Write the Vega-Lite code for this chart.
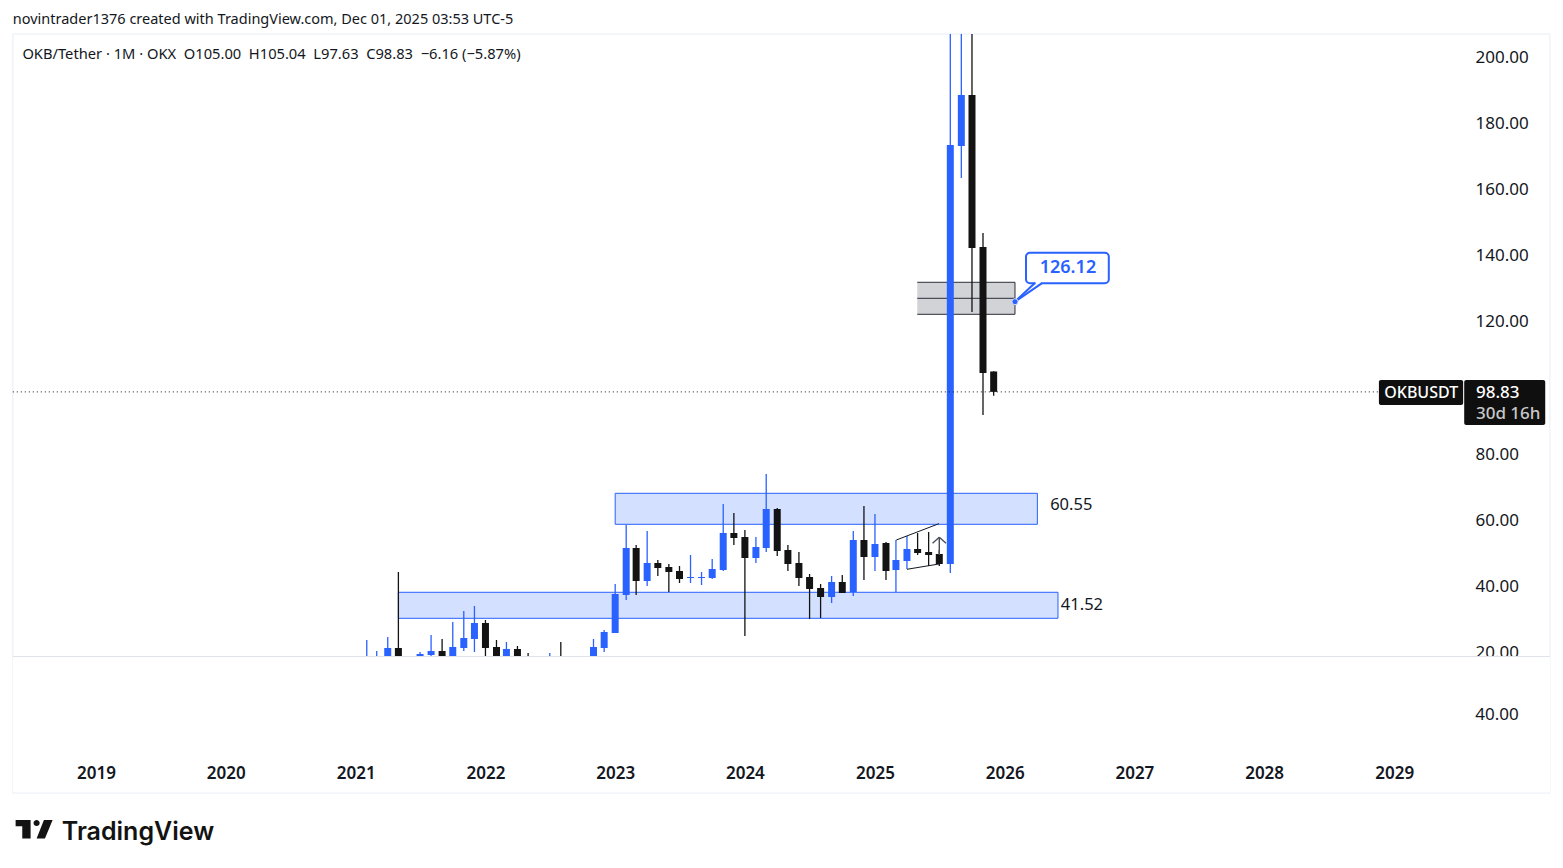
{"$schema":"https://vega.github.io/schema/vega-lite/v6.json","width":1563,"height":868,"padding":0,"autosize":"none","background":"#ffffff","config":{"view":{"stroke":null},"font":"Noto Sans"},
"datasets":{
"frame":[{"d":"2018-05-12","d2":"2030-03-15","p":207.1,"p2":-22.5}],
"pane":[{"d":"2018-05-12","d2":"2030-03-15","p":18.75,"p2":-22.3}],
"sep":[{"d":"2018-05-12","d2":"2030-03-15","p":18.75}],
"zones":[{"d":"2023-01-01","d2":"2026-04-03","p":68.14,"p2":58.76},{"d":"2021-05-01","d2":"2026-05-31","p":38.19,"p2":30.32}],
"grayBox":[{"d":"2025-04-30","d2":"2026-01-30","p":131.99,"p2":122.3}],
"grayLines":[{"d":"2025-04-30","d2":"2026-01-30","p":131.99,"p2":131.99},{"d":"2025-04-30","d2":"2026-01-30","p":127.14,"p2":127.14},{"d":"2025-04-30","d2":"2026-01-30","p":122.3,"p2":122.3},{"d":"2026-01-30","d2":"2026-01-30","p":131.99,"p2":122.3}],
"last":[{"d":"2018-05-12","d2":"2028-11-19","p":98.83}],
"candles":[
{"d":"2021-02-01","o":7.5,"h":23.76,"l":6.5,"c":13.5,"dir":"up"},
{"d":"2021-03-01","o":13.5,"h":20.43,"l":11,"c":16,"dir":"up"},
{"d":"2021-04-01","o":16,"h":24.66,"l":13,"c":21.33,"dir":"up"},
{"d":"2021-05-01","o":21.33,"h":44.33,"l":8,"c":12,"dir":"down"},
{"d":"2021-07-01","o":16,"h":20.12,"l":10,"c":19.52,"dir":"up"},
{"d":"2021-08-01","o":19.22,"h":25.27,"l":17,"c":20.43,"dir":"up"},
{"d":"2021-09-01","o":20.43,"h":24.06,"l":13,"c":15,"dir":"down"},
{"d":"2021-10-01","o":15,"h":29.2,"l":14,"c":21.64,"dir":"up"},
{"d":"2021-11-01","o":21.33,"h":32.53,"l":20.43,"c":24.36,"dir":"up"},
{"d":"2021-12-01","o":24.06,"h":34.04,"l":20.12,"c":28.9,"dir":"up"},
{"d":"2022-01-01","o":28.9,"h":29.81,"l":16,"c":21.33,"dir":"down"},
{"d":"2022-02-01","o":21.64,"h":23.76,"l":15,"c":17,"dir":"down"},
{"d":"2022-03-01","o":17,"h":23.15,"l":15,"c":21.03,"dir":"up"},
{"d":"2022-04-01","o":21.03,"h":21.94,"l":14,"c":16,"dir":"down"},
{"d":"2022-05-01","o":16,"h":19.82,"l":9,"c":11,"dir":"down"},
{"d":"2022-07-01","o":12,"h":19.82,"l":10,"c":15,"dir":"up"},
{"d":"2022-08-01","o":15,"h":23.15,"l":12,"c":13,"dir":"down"},
{"d":"2022-11-01","o":15,"h":24.06,"l":14,"c":21.64,"dir":"up"},
{"d":"2022-12-01","o":21.33,"h":26.78,"l":20.12,"c":26.18,"dir":"up"},
{"d":"2023-01-01","o":25.87,"h":40.7,"l":25.87,"c":37.67,"dir":"up"},
{"d":"2023-02-01","o":37.37,"h":58.55,"l":35.86,"c":51.59,"dir":"up"},
{"d":"2023-03-01","o":51.59,"h":52.5,"l":37.37,"c":41.61,"dir":"down"},
{"d":"2023-04-01","o":41.61,"h":56.74,"l":40.09,"c":47.05,"dir":"up"},
{"d":"2023-05-01","o":47.05,"h":47.96,"l":43.12,"c":45.54,"dir":"down"},
{"d":"2023-06-01","o":45.84,"h":46.75,"l":38.28,"c":44.33,"dir":"down"},
{"d":"2023-07-01","o":44.63,"h":46.15,"l":41.0,"c":42.21,"dir":"down"},
{"d":"2023-08-01","o":42.51,"h":49.47,"l":41.0,"c":42.82,"dir":"up"},
{"d":"2023-09-01","o":42.51,"h":44.33,"l":40.4,"c":42.82,"dir":"up"},
{"d":"2023-10-01","o":42.51,"h":48.26,"l":42.21,"c":45.24,"dir":"up"},
{"d":"2023-11-01","o":44.94,"h":64.9,"l":44.63,"c":56.13,"dir":"up"},
{"d":"2023-12-01","o":56.13,"h":62.18,"l":52.5,"c":54.62,"dir":"down"},
{"d":"2024-01-01","o":54.92,"h":57.04,"l":24.97,"c":48.57,"dir":"down"},
{"d":"2024-02-01","o":48.57,"h":54.92,"l":47.05,"c":51.89,"dir":"up"},
{"d":"2024-03-01","o":51.59,"h":73.98,"l":50.38,"c":63.39,"dir":"up"},
{"d":"2024-04-01","o":63.39,"h":63.69,"l":49.17,"c":50.68,"dir":"down"},
{"d":"2024-05-01","o":50.99,"h":52.5,"l":44.63,"c":46.75,"dir":"down"},
{"d":"2024-06-01","o":47.05,"h":50.38,"l":40.09,"c":42.51,"dir":"down"},
{"d":"2024-07-01","o":42.82,"h":43.72,"l":30.11,"c":39.19,"dir":"down"},
{"d":"2024-08-01","o":39.49,"h":40.7,"l":30.41,"c":36.77,"dir":"down"},
{"d":"2024-09-01","o":36.77,"h":43.12,"l":34.95,"c":41.3,"dir":"up"},
{"d":"2024-10-01","o":41.3,"h":43.42,"l":37.98,"c":37.98,"dir":"down"},
{"d":"2024-11-01","o":38.28,"h":56.74,"l":37.07,"c":54.01,"dir":"up"},
{"d":"2024-12-01","o":54.01,"h":64.3,"l":41.91,"c":48.87,"dir":"down"},
{"d":"2025-01-01","o":48.87,"h":61.88,"l":44.63,"c":52.8,"dir":"up"},
{"d":"2025-02-01","o":53.1,"h":53.41,"l":41.91,"c":44.63,"dir":"down"},
{"d":"2025-03-01","o":44.94,"h":54.01,"l":38.28,"c":47.96,"dir":"up"},
{"d":"2025-04-01","o":47.66,"h":55.22,"l":45.24,"c":51.29,"dir":"up"},
{"d":"2025-05-01","o":51.29,"h":56.13,"l":49.47,"c":50.08,"dir":"down"},
{"d":"2025-06-01","o":50.38,"h":56.43,"l":46.15,"c":49.47,"dir":"down"},
{"d":"2025-07-01","o":49.78,"h":50.99,"l":46.15,"c":46.75,"dir":"down"},
{"d":"2025-08-01","o":46.75,"h":207.1,"l":44.03,"c":173.53,"dir":"up"},
{"d":"2025-09-01","o":173.22,"h":207.1,"l":163.54,"c":188.66,"dir":"up"},
{"d":"2025-10-01","o":188.66,"h":207.1,"l":123.0,"c":142.36,"dir":"down"},
{"d":"2025-11-01","o":142.67,"h":146.9,"l":91.83,"c":104.54,"dir":"down"},
{"d":"2025-12-01","o":105.0,"h":105.04,"l":97.63,"c":98.83,"dir":"down"}],
"pattern":[{"d":"2025-03-02","d2":"2025-06-30","p":54.01,"p2":58.95},{"d":"2025-04-01","d2":"2025-06-30","p":45.15,"p2":46.75}],
"arrow":[{"d":"2025-07-01","d2":"2025-07-01","p":54.83,"p2":49.47},{"d":"2025-06-12","d2":"2025-07-01","p":53.01,"p2":54.83},{"d":"2025-07-20","d2":"2025-07-01","p":53.01,"p2":54.83}],
"bubble":[{"d":"2026-03-02","d2":"2026-10-21","p":140.94,"p2":131.68}],
"pointer":[{"d":"2026-01-30","d2":"2026-03-27","p":126.12,"p2":131.77},{"d":"2026-01-30","d2":"2026-04-15","p":126.12,"p2":131.68}],
"gap":[{"d":"2026-03-29","d2":"2026-04-13","p":131.68,"p2":131.68}],
"dot":[{"d":"2026-01-30","p":126.12}],
"tickerBox":[{"d":"2028-11-19","d2":"2029-07-14","p":102.42,"p2":94.86}],
"priceBox":[{"d":"2029-07-17","d2":"2030-03-02","p":102.42,"p2":88.81}],
"header":[{"d":"2018-05-12","p":211.35,"t":"novintrader1376 created with TradingView.com, Dec 01, 2025 03:53 UTC-5"}],
"legendText":[{"d":"2018-06-08","p":200.76,"t":"OKB/Tether · 1M · OKX\u00a0\u00a0O105.00\u00a0\u00a0H105.04\u00a0\u00a0L97.63\u00a0\u00a0C98.83\u00a0\u00a0−6.16 (−5.87%)"}],
"zoneText":[{"d":"2026-05-09","p":64.61,"t":"60.55"},{"d":"2026-06-08","p":34.35,"t":"41.52"}],
"bubbleText":[{"d":"2026-06-28","p":136.3,"t":"126.12"}],
"ticker":[{"d":"2029-03-18","p":98.34,"t":"OKBUSDT"}],
"price":[{"d":"2029-08-19","p":98.4,"t":"98.83"}],
"countdown":[{"d":"2029-08-19","p":92.14,"t":"30d 16h"}],
"lowerAxis":[{"d":"2029-08-17","p":1.2,"t":"40.00"}],
"logoText":[{"d":"2018-09-27","p":-34.4,"t":"TradingView"}],
"logoMark":[{"d":"2018-07-11","p":-33.5}]
},
"encoding":{
"x":{"field":"d","type":"temporal","scale":{"type":"utc","nice":false,"padding":0,"domain":["2018-04-06","2030-04-21"]},"axis":{"title":null,"orient":"bottom","offset":-95,"zindex":1,"values":[{"year":2019,"month":1,"date":1,"utc":true},{"year":2020,"month":1,"date":1,"utc":true},{"year":2021,"month":1,"date":1,"utc":true},{"year":2022,"month":1,"date":1,"utc":true},{"year":2023,"month":1,"date":1,"utc":true},{"year":2024,"month":1,"date":1,"utc":true},{"year":2025,"month":1,"date":1,"utc":true},{"year":2026,"month":1,"date":1,"utc":true},{"year":2027,"month":1,"date":1,"utc":true},{"year":2028,"month":1,"date":1,"utc":true},{"year":2029,"month":1,"date":1,"utc":true}],"format":"%Y","domain":false,"ticks":false,"grid":false,"labelPadding":0,"labelBaseline":"middle","labelFontSize":17,"labelFontWeight":600,"labelColor":"#131722","labelFont":"Noto Sans","labelOverlap":false,"labelBound":false,"labelFlush":false}},
"y":{"field":"p","type":"quantitative","scale":{"nice":false,"zero":false,"domain":[-45.23,217.4]},"axis":{"title":null,"orient":"right","offset":-88,"values":[20,40,60,80,120,140,160,180,200],"format":".2f","domain":false,"ticks":false,"grid":false,"labelPadding":0,"labelAlign":"left","labelBaseline":"middle","labelFontSize":17,"labelColor":"#131722","labelFont":"Noto Sans","labelOverlap":false,"labelBound":false,"labelFlush":false}}
},
"layer":[
{"data":{"name":"frame","format":{"parse":{"d":"date","d2":"date"}}},"mark":{"type":"rect","fill":"transparent","stroke":"#f0f3fa","strokeWidth":1.5},"encoding":{"x2":{"field":"d2"},"y2":{"field":"p2"}}},
{"data":{"name":"zones","format":{"parse":{"d":"date","d2":"date"}}},"mark":{"type":"rect","fill":"#d4e0ff","stroke":"#2962ff","strokeWidth":1},"encoding":{"x2":{"field":"d2"},"y2":{"field":"p2"}}},
{"data":{"name":"grayBox","format":{"parse":{"d":"date","d2":"date"}}},"mark":{"type":"rect","fill":"#d2d3d6"},"encoding":{"x2":{"field":"d2"},"y2":{"field":"p2"}}},
{"data":{"name":"grayLines","format":{"parse":{"d":"date","d2":"date"}}},"mark":{"type":"rule","color":"#2a2e39","strokeWidth":1},"encoding":{"x2":{"field":"d2"},"y2":{"field":"p2"}}},
{"data":{"name":"candles"},"mark":{"type":"rule","strokeWidth":1.3},"encoding":{"y":{"field":"h","type":"quantitative","axis":{"title":null,"orient":"right","offset":-88,"values":[20,40,60,80,120,140,160,180,200],"format":".2f","domain":false,"ticks":false,"grid":false,"labelPadding":0,"labelAlign":"left","labelBaseline":"middle","labelFontSize":17,"labelColor":"#131722","labelFont":"Noto Sans","labelOverlap":false,"labelBound":false,"labelFlush":false}},"y2":{"field":"l"},"color":{"field":"dir","type":"nominal","legend":null,"scale":{"domain":["up","down"],"range":["#2962ff","#131313"]}}}},
{"data":{"name":"candles"},"mark":{"type":"bar","size":7},"encoding":{"y":{"field":"o","type":"quantitative","axis":{"title":null,"orient":"right","offset":-88,"values":[20,40,60,80,120,140,160,180,200],"format":".2f","domain":false,"ticks":false,"grid":false,"labelPadding":0,"labelAlign":"left","labelBaseline":"middle","labelFontSize":17,"labelColor":"#131722","labelFont":"Noto Sans","labelOverlap":false,"labelBound":false,"labelFlush":false}},"y2":{"field":"c"},"color":{"field":"dir","type":"nominal","legend":null,"scale":{"domain":["up","down"],"range":["#2962ff","#131313"]}}}},
{"data":{"name":"last","format":{"parse":{"d":"date","d2":"date"}}},"mark":{"type":"rule","color":"#131722","strokeWidth":1,"strokeDash":[1,3]},"encoding":{"x2":{"field":"d2"}}},
{"data":{"name":"pattern","format":{"parse":{"d":"date","d2":"date"}}},"mark":{"type":"rule","color":"#131722","strokeWidth":1},"encoding":{"x2":{"field":"d2"},"y2":{"field":"p2"}}},
{"data":{"name":"arrow","format":{"parse":{"d":"date","d2":"date"}}},"mark":{"type":"rule","color":"#4a4d55","strokeWidth":1.4},"encoding":{"x2":{"field":"d2"},"y2":{"field":"p2"}}},
{"data":{"name":"pane","format":{"parse":{"d":"date","d2":"date"}}},"mark":{"type":"rect","fill":"#ffffff"},"encoding":{"x2":{"field":"d2"},"y2":{"field":"p2"}}},
{"data":{"name":"sep","format":{"parse":{"d":"date","d2":"date"}}},"mark":{"type":"rule","color":"#e0e3eb","strokeWidth":1},"encoding":{"x2":{"field":"d2"}}},
{"data":{"name":"bubble","format":{"parse":{"d":"date","d2":"date"}}},"mark":{"type":"rect","fill":"#ffffff","stroke":"#2962ff","strokeWidth":2,"cornerRadius":4},"encoding":{"x2":{"field":"d2"},"y2":{"field":"p2"}}},
{"data":{"name":"gap","format":{"parse":{"d":"date","d2":"date"}}},"mark":{"type":"rule","color":"#ffffff","strokeWidth":3},"encoding":{"x2":{"field":"d2"}}},
{"data":{"name":"pointer","format":{"parse":{"d":"date","d2":"date"}}},"mark":{"type":"rule","color":"#2962ff","strokeWidth":2},"encoding":{"x2":{"field":"d2"},"y2":{"field":"p2"}}},
{"data":{"name":"dot"},"mark":{"type":"point","filled":true,"fill":"#2962ff","stroke":"#c9d7ff","strokeWidth":1,"opacity":1,"size":36}},
{"data":{"name":"tickerBox","format":{"parse":{"d":"date","d2":"date"}}},"mark":{"type":"rect","fill":"#0f0f0f","cornerRadius":2},"encoding":{"x2":{"field":"d2"},"y2":{"field":"p2"}}},
{"data":{"name":"priceBox","format":{"parse":{"d":"date","d2":"date"}}},"mark":{"type":"rect","fill":"#0f0f0f","cornerRadius":2},"encoding":{"x2":{"field":"d2"},"y2":{"field":"p2"}}},
{"data":{"name":"header"},"mark":{"type":"text","align":"left","baseline":"middle","fontSize":14.5,"color":"#131722"},"encoding":{"text":{"field":"t"}}},
{"data":{"name":"legendText"},"mark":{"type":"text","align":"left","baseline":"middle","fontSize":14.7,"color":"#131722"},"encoding":{"text":{"field":"t"}}},
{"data":{"name":"zoneText"},"mark":{"type":"text","align":"left","baseline":"middle","fontSize":16.5,"color":"#131722"},"encoding":{"text":{"field":"t"}}},
{"data":{"name":"bubbleText"},"mark":{"type":"text","align":"center","baseline":"middle","fontSize":18,"fontWeight":600,"color":"#2962ff"},"encoding":{"text":{"field":"t"}}},
{"data":{"name":"ticker"},"mark":{"type":"text","align":"center","baseline":"middle","fontSize":16,"fontWeight":500,"color":"#ffffff"},"encoding":{"text":{"field":"t"}}},
{"data":{"name":"price"},"mark":{"type":"text","align":"left","baseline":"middle","fontSize":17,"fontWeight":500,"color":"#ffffff"},"encoding":{"text":{"field":"t"}}},
{"data":{"name":"countdown"},"mark":{"type":"text","align":"left","baseline":"middle","fontSize":17,"fontWeight":500,"color":"#c8c8c8"},"encoding":{"text":{"field":"t"}}},
{"data":{"name":"lowerAxis"},"mark":{"type":"text","align":"left","baseline":"middle","fontSize":17,"color":"#131722"},"encoding":{"text":{"field":"t"}}},
{"data":{"name":"logoText"},"mark":{"type":"text","align":"left","baseline":"middle","fontSize":25,"fontWeight":600,"font":"Inter","color":"#131313"},"encoding":{"text":{"field":"t"}}},
{"data":{"name":"logoMark"},"mark":{"type":"point","filled":true,"fill":"#131313","stroke":null,"opacity":1,"size":1369,"shape":"M-1,-0.505L-0.19,-0.505L-0.19,0.505L-0.64,0.505L-0.64,-0.16L-1,-0.16ZM0.53,-0.505L1,-0.505L0.585,0.505L0.135,0.505ZM-0.03,-0.34A0.165,0.165 0 1,0 0.3,-0.34A0.165,0.165 0 1,0 -0.03,-0.34Z"}}
]}
